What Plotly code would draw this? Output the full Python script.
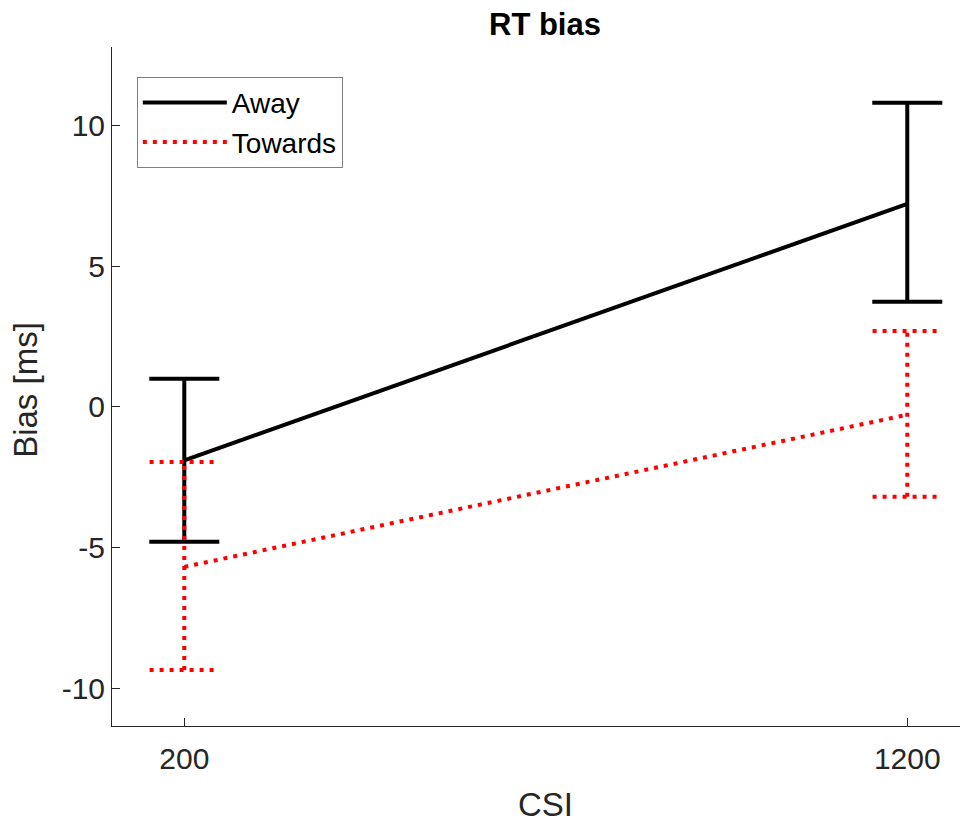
import plotly.graph_objects as go

# ---- data ----
csi = [200, 1200]
away_mean = [-1.9, 7.22]
away_hi = [1.0, 10.82]
away_lo = [-4.8, 3.74]
towards_mean = [-5.69, -0.28]
towards_hi = [-1.96, 2.70]
towards_lo = [-9.36, -3.20]
x_ticks = [200, 1200]
y_ticks = [-10, -5, 0, 5, 10]

FONT = "Liberation Sans, Arial, sans-serif"
TXT = "#262626"
CAP_HALF = 48  # cap half-width in x data units (~35 px)
RED_DASH = "4px,6px"

fig = go.Figure()

# Away: solid black with error bars
fig.add_trace(go.Scatter(
    x=csi, y=away_mean, mode="lines", name="Away",
    line=dict(color="black", width=4),
    error_y=dict(type="data", symmetric=False,
                 array=[h - m for h, m in zip(away_hi, away_mean)],
                 arrayminus=[m - l for l, m in zip(away_lo, away_mean)],
                 color="black", thickness=4, width=35),
))

# Towards error bars (dotted) built from the arrays
ex, ey = [], []
for x, lo, hi in zip(csi, towards_lo, towards_hi):
    ex += [x, x, None, x - CAP_HALF, x + CAP_HALF, None, x - CAP_HALF, x + CAP_HALF, None]
    ey += [lo, hi, None, hi, hi, None, lo, lo, None]
fig.add_trace(go.Scatter(
    x=ex, y=ey, mode="lines", showlegend=False, hoverinfo="skip",
    line=dict(color="red", width=4, dash=RED_DASH),
))

# Towards mean line
fig.add_trace(go.Scatter(
    x=csi, y=towards_mean, mode="lines", name="Towards",
    line=dict(color="red", width=4, dash=RED_DASH),
))

fig.update_layout(
    width=960, height=814,
    margin=dict(l=104, r=0, t=39, b=96),
    paper_bgcolor="white", plot_bgcolor="white",
    font=dict(family=FONT, color=TXT, size=30),
    showlegend=True,
    legend=dict(x=0.029, y=0.956, xanchor="left", yanchor="top",
                bgcolor="white", bordercolor="#7f7f7f", borderwidth=1,
                font=dict(family=FONT, size=28, color="black"),
                itemwidth=84, tracegroupgap=0),
    annotations=[
        dict(text="<b>RT bias</b>", x=0.506, y=1.033, xref="paper", yref="paper",
             xanchor="center", yanchor="middle", showarrow=False,
             font=dict(family=FONT, size=31, color="black")),
        dict(text="CSI", x=0.506, y=-0.115, xref="paper", yref="paper",
             xanchor="center", yanchor="middle", showarrow=False,
             font=dict(family=FONT, size=33, color=TXT)),
        dict(text="Bias [ms]", x=-0.1005, y=0.495, xref="paper", yref="paper",
             xanchor="center", yanchor="middle", showarrow=False, textangle=-90,
             font=dict(family=FONT, size=33, color=TXT)),
    ],
)

fig.update_xaxes(
    range=[100, 1284], tickvals=x_ticks, ticktext=[str(v) for v in x_ticks],
    ticks="inside", ticklen=8, tickwidth=1, tickcolor=TXT,
    showline=True, linecolor=TXT, linewidth=1, mirror=False,
    showgrid=False, zeroline=False, ticklabelstandoff=6,
    tickfont=dict(size=30, color=TXT),
)
fig.update_yaxes(
    range=[-11.35, 12.8], tickvals=y_ticks, ticktext=[str(v) for v in y_ticks],
    ticks="inside", ticklen=8, tickwidth=1, tickcolor=TXT,
    showline=True, linecolor=TXT, linewidth=1, mirror=False,
    showgrid=False, zeroline=False,
    tickfont=dict(size=30, color=TXT),
)

fig.write_html("out.html")
